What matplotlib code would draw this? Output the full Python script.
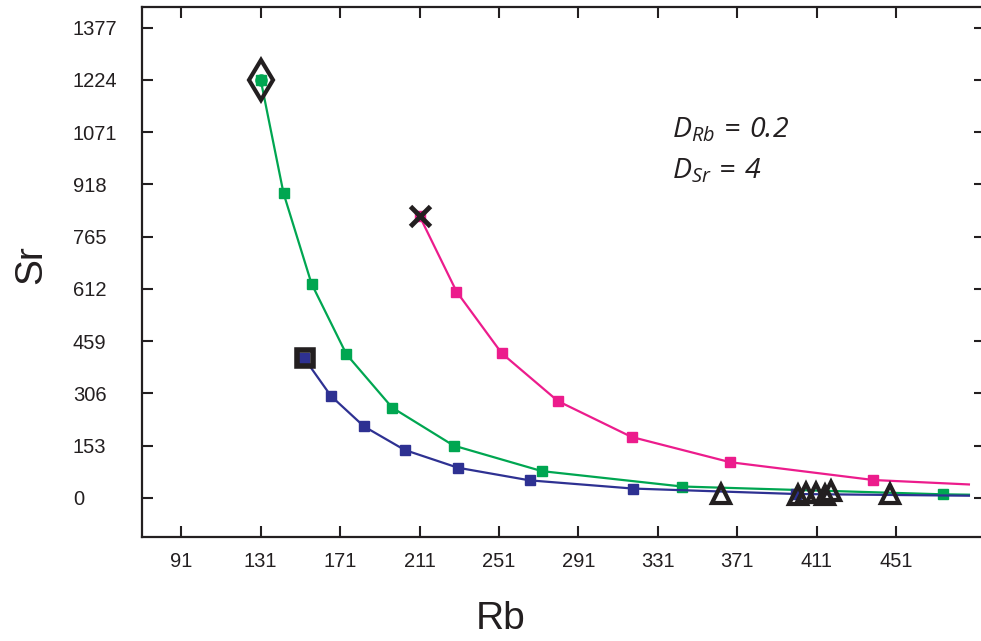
import matplotlib
matplotlib.use("Agg")
import matplotlib.pyplot as plt

plt.rcParams['font.family'] = ['Liberation Sans', 'DejaVu Sans']
plt.rcParams['mathtext.fontset'] = 'custom'
plt.rcParams['mathtext.rm'] = 'Open Sans:italic'
plt.rcParams['mathtext.it'] = 'Open Sans:italic'

# Rayleigh fractionation paths; last point = end of line
green_rb = [131, 142.5, 156.6, 174.2, 197.2, 228.1, 272.6, 343.1, 474.8, 487.6]
green_sr = [1224, 892, 627, 420, 264, 153, 78, 33, 10, 9]
blue_rb = [153, 166.4, 183.0, 203.5, 230.3, 266.4, 318.4, 400.7, 487.6]
blue_sr = [408, 298, 209, 140, 88, 51, 27, 11, 6]
pink_rb = [211, 229.6, 252.4, 280.7, 317.8, 367.5, 439.5, 487.6]
pink_sr = [825, 604, 423, 283, 178, 104, 52, 39]

# starting compositions
diamond_rb, diamond_sr = [131], [1224]
square_rb, square_sr = [153.5], [408]
cross_rb, cross_sr = [211], [824]

# samples
tri_rb = [362.8, 401.5, 405.6, 410.8, 415.1, 418.3, 447.8]
tri_sr = [12, 8, 14, 14, 8, 19, 11]

xticks = [91, 131, 171, 211, 251, 291, 331, 371, 411, 451]
yticks = [0, 153, 306, 459, 612, 765, 918, 1071, 1224, 1377]

GREEN = '#00A651'
BLUE = '#2E3192'
PINK = '#EC1C8C'

fig = plt.figure(figsize=(9.81, 6.41), dpi=100)
ax = fig.add_axes([141.7 / 981, 1 - 536.7 / 641, (985 - 141.7) / 981, (536.7 - 6.7) / 641])

for xs, ys, c in [(green_rb, green_sr, GREEN), (blue_rb, blue_sr, BLUE), (pink_rb, pink_sr, PINK)]:
    ax.plot(xs, ys, color=c, lw=1.6, marker='s', ms=7.5, mec=c, mfc=c,
            markevery=list(range(len(xs) - 1)), zorder=2)

ax.plot(green_rb[:1], green_sr[:1], 'o', color=GREEN, ms=8, zorder=3)
ax.plot(diamond_rb, diamond_sr, 'd', ms=20, mfc='none', mec='#231F20', mew=3, zorder=4)
ax.plot(square_rb, square_sr, 's', ms=12, mfc='none', mec='#231F20', mew=4, zorder=4)
ax.plot(cross_rb, cross_sr, 'x', ms=14, mec='#231F20', mew=3.5, zorder=4)
ax.plot(tri_rb, tri_sr, '^', ms=13, mfc='none', mec='#231F20', mew=3, ls='none', zorder=4)

ax.set_xlim(71.1, 495.7)
ax.set_ylim(-114, 1438)
ax.set_xticks(xticks)
ax.set_yticks(yticks)
ax.set_xticklabels([str(v) for v in xticks])
ax.set_yticklabels([str(v) for v in yticks])

ax.tick_params(direction='in', length=8, width=1.5, top=True, right=True,
               labelsize=14.5, colors='#231F20')
ax.tick_params(axis='x', pad=11)
ax.tick_params(axis='y', pad=49.5)
for lab in ax.get_yticklabels():
    lab.set_horizontalalignment('left')
for sp in ax.spines.values():
    sp.set_linewidth(1.6)
    sp.set_color('#231F20')

fig.text(501 / 981, 1 - 619 / 641, 'Rb', fontsize=28, ha='center', va='center', color='#231F20')
fig.text(31 / 981, 1 - 265 / 641, 'Sr', fontsize=28, rotation=90, ha='center', va='center',
         color='#231F20')

fig.text(672 / 981, 1 - 137 / 641, r'$D_{Rb}\,{=}\,0.2$', fontsize=20.5, va='baseline',
         color='#231F20')
fig.text(672 / 981, 1 - 178 / 641, r'$D_{Sr}\,{=}\,4$', fontsize=20.5, va='baseline',
         color='#231F20')

fig.savefig('out.png', dpi=100)
